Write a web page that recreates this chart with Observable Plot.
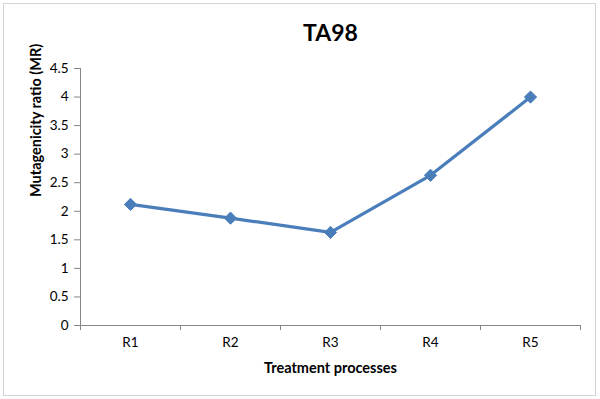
<!DOCTYPE html>
<html>
<head>
<meta charset="utf-8">
<script src="https://cdn.jsdelivr.net/npm/d3@7"></script>
<script src="https://cdn.jsdelivr.net/npm/@observablehq/plot@0.6"></script>
<style>
  html, body { margin: 0; padding: 0; background: #fff; }
  #wrap { position: relative; width: 600px; height: 399px; overflow: hidden; }
  #frame { position: absolute; left: 3px; top: 3px; width: 591px; height: 391px; border: 1.5px solid #d4d4d4; pointer-events: none; }
  #chart { position: absolute; left: 0; top: 0; }
</style>
</head>
<body>
<div id="wrap"><div id="chart"></div><div id="frame"></div></div>
<script>
const categories = ["R1", "R2", "R3", "R4", "R5"];
const mr = [2.12, 1.88, 1.63, 2.63, 4.0];
const yTicks = [0, 0.5, 1, 1.5, 2, 2.5, 3, 3.5, 4, 4.5];
const title = "TA98";
const xTitle = "Treatment processes";
const yTitle = "Mutagenicity ratio (MR)";

const data = categories.map((c, k) => ({cat: c, i: k + 1, v: mr[k]}));
const centers = data.map(d => d.i);
const bounds = [0.5, ...centers.map(i => i + 0.5)];
const axisColor = "#868686";
const lineColor = "#4a7ebb";

const chart = Plot.plot({
  width: 600,
  height: 399,
  marginLeft: 80,
  marginRight: 20,
  marginTop: 68,
  marginBottom: 74,
  style: {fontFamily: "Lato, 'Open Sans', sans-serif", fontSize: "13.5px", color: "#000", background: "transparent"},
  x: {type: "linear", domain: [0.5, categories.length + 0.5], axis: null},
  y: {domain: [0, 4.5], axis: null},
  marks: [
    Plot.axisY({ticks: yTicks, tickSize: 6, tickPadding: 6, tickFormat: d => String(d), label: null, stroke: axisColor, fill: "#000", fontSize: 13.5}),
    Plot.axisX({ticks: centers, tickSize: 0, tickPadding: 12, tickFormat: i => categories[i - 1], label: null, fill: "#000", fontSize: 13.5}),
    Plot.axisX({ticks: bounds, tickSize: 5, tickFormat: () => "", label: null, stroke: axisColor}),
    Plot.ruleX([0.5], {stroke: axisColor}),
    Plot.ruleY([0], {stroke: axisColor}),
    Plot.line(data, {x: "i", y: "v", stroke: lineColor, strokeWidth: 3.2}),
    Plot.dot(data, {x: "i", y: "v", symbol: "diamond2", r: 5.5, fill: lineColor, stroke: lineColor, strokeWidth: 1}),
    Plot.text([title], {frameAnchor: "top", dy: -35, lineAnchor: "middle", fontSize: 23, fontWeight: "bold", fill: "#000"}),
    Plot.text([xTitle], {frameAnchor: "bottom", dy: 43, lineAnchor: "middle", fontSize: 14.5, fontWeight: "bold", fill: "#000"}),
    Plot.text([yTitle], {frameAnchor: "left", dx: -44, rotate: -90, lineAnchor: "middle", fontSize: 14.5, fontWeight: "bold", fill: "#000"})
  ]
});
document.getElementById("chart").appendChild(chart);
</script>
</body>
</html>
